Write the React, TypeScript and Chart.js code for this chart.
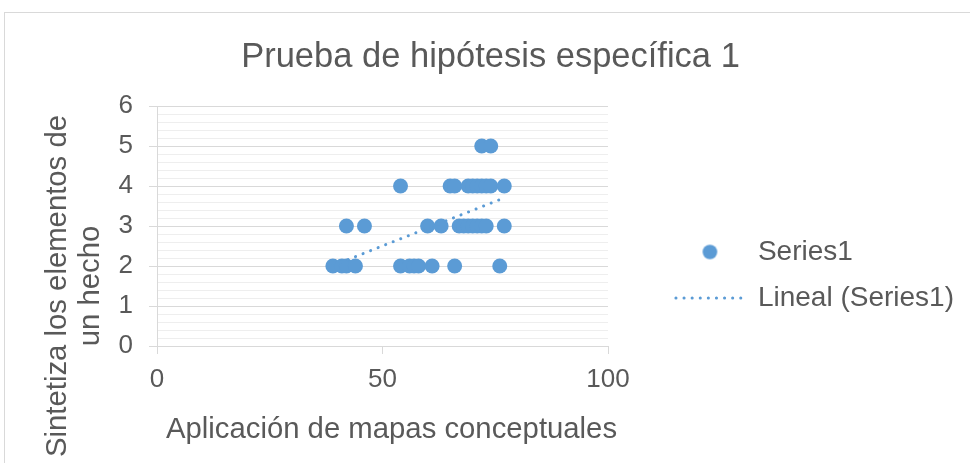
import React, { useEffect, useRef } from 'react';
import { Chart, registerables } from 'chart.js';

Chart.register(...registerables);

const chartTitle = 'Prueba de hipótesis específica 1';
const xAxisTitle = 'Aplicación de mapas conceptuales';
const yAxisTitle = ['Sintetiza los elementos de', 'un hecho'];
const seriesLabel = 'Series1';
const trendLabel = 'Lineal (Series1)';

const xValues = [
  39, 41, 42, 44, 54, 56, 57, 58, 61, 66, 76,
  42, 46, 60, 63, 67, 68, 69, 70, 71, 72, 73, 77,
  54, 65, 66, 69, 70, 71, 72, 73, 74, 77,
  72, 74,
];
const yValues = [
  2, 2, 2, 2, 2, 2, 2, 2, 2, 2, 2,
  3, 3, 3, 3, 3, 3, 3, 3, 3, 3, 3, 3,
  4, 4, 4, 4, 4, 4, 4, 4, 4, 4,
  5, 5,
];
const xTicks = [0, 50, 100];
const yTicks = [0, 1, 2, 3, 4, 5, 6];
const yMinorStep = 0.2;

const FONT = "'Liberation Sans', Arial, sans-serif";
const TEXT = '#595959';
const BLUE = '#5b9bd5';
const GRID = '#d9d9d9';
const MINOR = '#eeeeee';

function linearFit(xs: number[], ys: number[]) {
  const n = xs.length;
  const mx = xs.reduce((a, b) => a + b, 0) / n;
  const my = ys.reduce((a, b) => a + b, 0) / n;
  let sxy = 0;
  let sxx = 0;
  for (let i = 0; i < n; i++) {
    sxy += (xs[i] - mx) * (ys[i] - my);
    sxx += (xs[i] - mx) * (xs[i] - mx);
  }
  const slope = sxy / sxx;
  return { slope, intercept: my - slope * mx };
}

function makeDot(color: string, r: number) {
  const c = document.createElement('canvas');
  const s = Math.ceil(r * 2) + 2;
  c.width = s;
  c.height = s;
  const g = c.getContext('2d')!;
  g.fillStyle = color;
  g.beginPath();
  g.arc(s / 2, s / 2, r, 0, Math.PI * 2);
  g.fill();
  return c;
}

const axisTitlePlugin = {
  id: 'axisTitles',
  afterDraw(chart: any) {
    const ctx = chart.ctx as CanvasRenderingContext2D;
    ctx.save();
    ctx.fillStyle = TEXT;
    ctx.font = `29.3px ${FONT}`;
    ctx.textAlign = 'center';
    ctx.textBaseline = 'middle';
    ctx.fillText(xAxisTitle, 391.5, 430);
    ctx.translate(58, 286);
    ctx.rotate(-Math.PI / 2);
    yAxisTitle.forEach((line, i) => ctx.fillText(line, 0, i * 33));
    ctx.restore();
  },
};

export default function App() {
  const ref = useRef<HTMLCanvasElement>(null);

  useEffect(() => {
    const points = xValues.map((x, i) => ({ x, y: yValues[i] }));
    const { slope, intercept } = linearFit(xValues, yValues);
    const xMinData = Math.min(...xValues);
    const xMaxData = Math.max(...xValues);
    const trend = [
      { x: xMinData, y: intercept + slope * xMinData },
      { x: xMaxData, y: intercept + slope * xMaxData },
    ];
    const dot = makeDot(BLUE, 7.3);
    const isMinor = (v: number) => Math.abs(v - Math.round(v)) > 1e-6;

    const chart = new Chart(ref.current!, {
      type: 'scatter',
      data: {
        datasets: [
          {
            label: seriesLabel,
            data: points,
            backgroundColor: BLUE,
            borderColor: BLUE,
            borderWidth: 0,
            pointRadius: 7.5,
            pointHoverRadius: 7.5,
          },
          {
            label: trendLabel,
            data: trend,
            showLine: true,
            pointRadius: 0,
            pointHoverRadius: 0,
            borderColor: BLUE,
            backgroundColor: BLUE,
            borderWidth: 3,
            borderDash: [0.1, 8],
            borderCapStyle: 'round',
            order: -1,
          } as any,
        ],
      },
      options: {
        responsive: false,
        animation: false,
        events: [],
        layout: { padding: { left: 17, right: 6, top: 0, bottom: 0 } },
        plugins: {
          title: {
            display: true,
            text: chartTitle,
            color: TEXT,
            font: { family: FONT, size: 34.5, weight: 'normal' },
            padding: { top: 36.3, bottom: 28.3 },
          },
          legend: {
            position: 'right',
            maxWidth: 400,
            title: {
              display: true,
              text: ' ',
              font: { size: 1, lineHeight: 1 },
              padding: { top: 86, bottom: 0 },
            },
            labels: {
              color: TEXT,
              font: { family: FONT, size: 28 },
              usePointStyle: true,
              pointStyleWidth: 68,
              padding: 18,
              sort: (a: any, b: any) => a.datasetIndex - b.datasetIndex,
              generateLabels: (c: any) => {
                const items = (Chart.defaults.plugins.legend.labels as any).generateLabels(c);
                return items.map((it: any) =>
                  it.datasetIndex === 0
                    ? { ...it, pointStyle: dot, lineWidth: 0 }
                    : {
                        ...it,
                        pointStyle: 'line',
                        lineDash: [0.1, 8],
                        lineCap: 'round',
                        lineWidth: 3,
                        strokeStyle: BLUE,
                      }
                );
              },
            },
          },
          tooltip: { enabled: false },
        },
        scales: {
          x: {
            type: 'linear',
            position: 'bottom',
            min: xTicks[0],
            max: xTicks[xTicks.length - 1],
            ticks: {
              stepSize: xTicks[1] - xTicks[0],
              color: TEXT,
              font: { family: FONT, size: 26 },
              padding: 10,
              maxRotation: 0,
            },
            grid: { drawOnChartArea: false, drawTicks: true, tickLength: 8, color: GRID },
            border: { display: true, color: GRID },
            afterFit: (s: any) => {
              s.height = 117;
            },
          },
          y: {
            type: 'linear',
            position: 'left',
            min: yTicks[0],
            max: yTicks[yTicks.length - 1],
            ticks: {
              stepSize: yTicks[1] - yTicks[0],
              color: TEXT,
              font: { family: FONT, size: 26 },
              padding: 16,
            },
            grid: { color: GRID, tickLength: 8 },
            border: { display: true, color: GRID },
            afterFit: (s: any) => {
              s.width = 140;
            },
          },
          y2: {
            type: 'linear',
            position: 'right',
            min: yTicks[0],
            max: yTicks[yTicks.length - 1],
            ticks: { display: false, stepSize: yMinorStep },
            grid: {
              drawTicks: false,
              color: (ctx: any) => (ctx.tick && isMinor(ctx.tick.value) ? MINOR : 'rgba(0,0,0,0)'),
            },
            border: { display: false },
            afterFit: (s: any) => {
              const lw = s.chart.legend ? s.chart.legend.width : 306;
              s.width = Math.max(0, s.chart.width - 6 - lw - 608);
            },
          },
        },
      } as any,
      plugins: [axisTitlePlugin],
    });
    return () => chart.destroy();
  }, []);

  return (
    <div
      style={{
        position: 'fixed',
        left: 0,
        top: 0,
        width: 970,
        height: 463,
        overflow: 'hidden',
        background: '#ffffff',
      }}
    >
      <div
        style={{
          position: 'absolute',
          left: 4,
          top: 12,
          width: 1200,
          height: 800,
          border: '1px solid #d9d9d9',
        }}
      />
      <canvas
        ref={ref}
        width={970}
        height={463}
        style={{ position: 'absolute', left: 0, top: 0 }}
      />
    </div>
  );
}
